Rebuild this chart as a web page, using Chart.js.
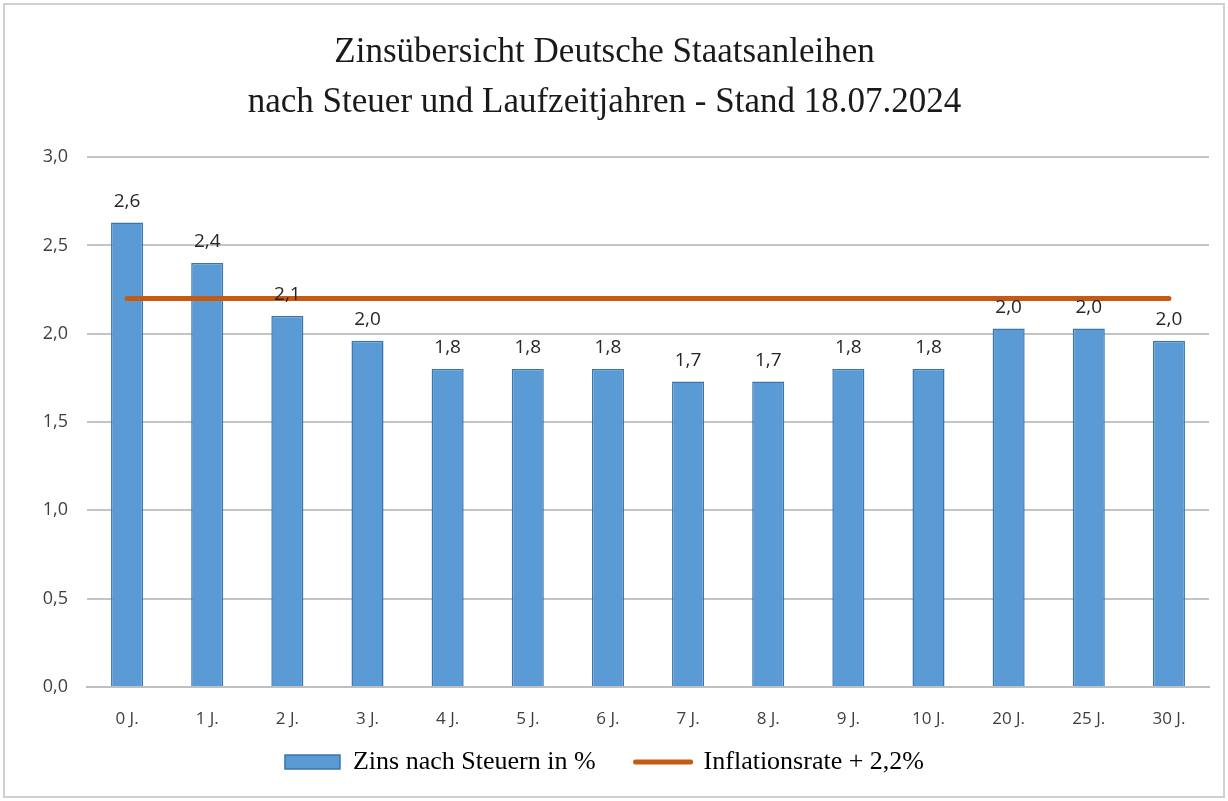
<!DOCTYPE html>
<html>
<head>
<meta charset="utf-8">
<script src="https://cdn.jsdelivr.net/npm/chart.js@4.4.1/dist/chart.umd.min.js"></script>
<style>
  html, body { margin: 0; padding: 0; background: #fff; }
  #wrap { width: 1228px; height: 801px; }
</style>
</head>
<body>
<div id="wrap"><canvas id="zinsChart" width="1228" height="801"></canvas></div>
<script>
// === DATA === //
const laufzeiten = ["0 J.", "1 J.", "2 J.", "3 J.", "4 J.", "5 J.", "6 J.", "7 J.", "8 J.", "9 J.", "10 J.", "20 J.", "25 J.", "30 J."];
const zinsNachSteuern = [2.63, 2.40, 2.10, 1.96, 1.80, 1.80, 1.80, 1.73, 1.73, 1.80, 1.80, 2.03, 2.03, 1.96];
const inflationPlus = [2.2, 2.2, 2.2, 2.2, 2.2, 2.2, 2.2, 2.2, 2.2, 2.2, 2.2, 2.2, 2.2, 2.2];
const yTicks = [0, 0.5, 1.0, 1.5, 2.0, 2.5, 3.0];

const titleLines = ["Zinsübersicht Deutsche Staatsanleihen", "nach Steuer und Laufzeitjahren - Stand 18.07.2024"];
const barLabel = "Zins nach Steuern in %";
const lineLabel = "Inflationsrate + 2,2%";

const BLUE = "#5B9BD5";
const BLUE_EDGE = "#3A75AE";
const ORANGE = "#C55A11";
const deComma = (v) => (Math.round(v * 10) / 10).toFixed(1).replace(".", ",");

// value labels above the bars
const valueLabels = {
  id: "valueLabels",
  afterDatasetsDraw(chart) {
    const ctx = chart.ctx;
    const meta = chart.getDatasetMeta(1);
    ctx.save();
    ctx.font = "19px 'Open Sans'";
    ctx.fillStyle = "#262626";
    ctx.textAlign = "center";
    ctx.textBaseline = "middle";
    meta.data.forEach((bar, i) => {
      ctx.fillText(deComma(zinsNachSteuern[i]), bar.x, bar.y - 21);
    });
    ctx.restore();
  },
};

// thin frame around the whole chart
const frame = {
  id: "frame",
  beforeDraw(chart) {
    const ctx = chart.ctx;
    ctx.save();
    ctx.strokeStyle = "#D0D0D0";
    ctx.lineWidth = 2;
    ctx.strokeRect(4, 4, chart.width - 8, chart.height - 8);
    ctx.restore();
  },
};

new Chart(document.getElementById("zinsChart"), {
  data: {
    labels: laufzeiten,
    datasets: [
      {
        type: "line",
        label: lineLabel,
        data: inflationPlus,
        borderColor: ORANGE,
        backgroundColor: ORANGE,
        borderWidth: 5,
        borderCapStyle: "round",
        pointRadius: 0,
        order: 1,
      },
      {
        type: "bar",
        label: barLabel,
        data: zinsNachSteuern,
        backgroundColor: BLUE,
        borderColor: BLUE_EDGE,
        borderWidth: 1.5,
        categoryPercentage: 1.0,
        barPercentage: 0.4,
        order: 2,
      },
    ],
  },
  options: {
    responsive: false,
    animation: false,
    layout: { padding: { left: 0, right: 19, top: 14, bottom: 16 } },
    plugins: {
      tooltip: { enabled: false },
      title: {
        display: true,
        text: titleLines,
        color: "#1a1a1a",
        font: { family: "'Liberation Serif'", size: 35, weight: "normal", lineHeight: 1.43 },
        padding: { top: 14, bottom: 29 },
      },
      legend: {
        position: "bottom",
        labels: {
          color: "#262626",
          font: { family: "'Liberation Serif'", size: 26 },
          usePointStyle: true,
          pointStyleWidth: 55,
          boxHeight: 14,
          padding: 14,
          generateLabels: () => [
            { text: barLabel + "\u2002\u2002", fillStyle: BLUE, strokeStyle: BLUE_EDGE, lineWidth: 1.5, pointStyle: "rect", datasetIndex: 1 },
            { text: lineLabel, fillStyle: ORANGE, strokeStyle: ORANGE, lineWidth: 5, lineCap: "round", pointStyle: "line", datasetIndex: 0 },
          ],
        },
      },
    },
    scales: {
      x: {
        grid: { display: false },
        border: { display: true, color: "#BFBFBF", width: 2 },
        afterFit: (axis) => { axis.height = 48; },
        ticks: { color: "#404040", font: { family: "'Open Sans'", size: 17 }, padding: 14 },
      },
      y: {
        min: 0,
        max: 3,
        afterBuildTicks: (axis) => { axis.ticks = yTicks.map((v) => ({ value: v })); },
        afterFit: (axis) => { axis.width = 87; },
        grid: { color: "#C4C4C4", lineWidth: 2, drawTicks: false },
        border: { display: false },
        ticks: {
          color: "#404040",
          font: { family: "'Open Sans'", size: 18 },
          padding: 19,
          callback: (v) => deComma(v),
        },
      },
    },
  },
  plugins: [frame, valueLabels],
});
</script>
</body>
</html>
